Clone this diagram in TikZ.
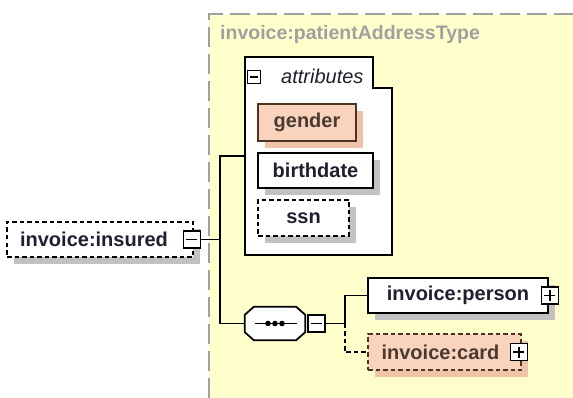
\documentclass[tikz,border=0pt]{standalone}
\usepackage{fontspec}
\setmainfont{Liberation Sans}
\usetikzlibrary{positioning,shadows}

\definecolor{typebg}{HTML}{FFFFCC}
\definecolor{typeline}{HTML}{A0A0A0}
\definecolor{textdark}{HTML}{1E2030}
\definecolor{shadowgray}{HTML}{C2C2C2}
\definecolor{attrfill}{HTML}{F9D3BC}
\definecolor{attrdraw}{HTML}{4A3426}
\definecolor{attrshadow}{HTML}{EEC3A8}
\definecolor{attrtext}{HTML}{4A3A30}

\tikzset{
  elem/.style={draw=black, fill=white, line width=1.8pt, text=textdark,
    font=\fontsize{20}{24}\selectfont\bfseries, inner sep=0pt,
    minimum height=35pt,
    drop shadow={shadow xshift=7pt, shadow yshift=-7pt, fill=shadowgray, opacity=1}},
  optional/.style={dash pattern=on 4.5pt off 3pt},
  attrelem/.style={elem, fill=attrfill, draw=attrdraw, text=attrtext,
    drop shadow={shadow xshift=7pt, shadow yshift=-7pt, fill=attrshadow, opacity=1}},
  pmbox/.style={draw=black, fill=white, line width=1.6pt, minimum size=17pt, inner sep=0pt},
  minusbox/.style={pmbox, path picture={
    \draw[line width=1.8pt] ([xshift=3pt]path picture bounding box.west) -- ([xshift=-3pt]path picture bounding box.east);}},
  plusbox/.style={pmbox, path picture={
    \draw[line width=1.8pt] ([xshift=3pt]path picture bounding box.west) -- ([xshift=-3pt]path picture bounding box.east);
    \draw[line width=1.8pt] ([yshift=-3pt]path picture bounding box.north) -- ([yshift=3pt]path picture bounding box.south);}},
  wire/.style={line width=1.8pt, draw=black}
}

\begin{document}
\begin{tikzpicture}[x=1pt, y=-1pt]
\useasboundingbox (0,0) rectangle (573,398);

% complex type area
\fill[typebg] (209,14) rectangle (573,398);
\draw[typeline, line width=1.6pt, dash pattern=on 20pt off 7pt] (209,398) -- (209,14) -- (573,14);
\node[anchor=base west, inner sep=0pt, text=typeline, font=\fontsize{19.5}{23}\selectfont\bfseries] (typename) at (220,40) {invoice:patientAddressType};

% attributes group
\draw[line width=1.8pt, fill=white] (245,57) -- (373,57) -- (373,88) -- (392,88) -- (392,255) -- (245,255) -- cycle;
\coordinate (attrin) at (245,156);
\node[pmbox, minimum size=13pt, line width=1.3pt, path picture={
  \draw[line width=1.3pt] ([xshift=2.5pt]path picture bounding box.west) -- ([xshift=-2.5pt]path picture bounding box.east);}] (attrminus) at (254,77) {};
\node[anchor=west, inner sep=0pt, text=textdark, font=\fontsize{20}{24}\selectfont\itshape] (attrlabel) at (281,76) {attributes};

\node[attrelem, minimum width=98pt, minimum height=37pt] (gender) at (307,122.5) {gender};
\node[elem, minimum width=115pt] (birthdate) at (315.5,170.5) {birthdate};
\node[elem, optional, minimum width=91pt, minimum height=36pt] (ssn) at (303.5,218) {ssn};

% root element
\node[elem, optional, minimum width=186pt] (insured) at (100,239.5) {\hspace*{-12pt}invoice:insured};
\node[minusbox] (insminus) at ([xshift=-2pt]insured.east) {};

% sequence
\node[minimum width=60pt, minimum height=33pt, inner sep=0pt] (seq) at (275,323.5) {};
\fill[shadowgray, shift={(7,7)}] ([xshift=9pt]seq.north west) -- ([xshift=-9pt]seq.north east)
  -- ([yshift=-8pt]seq.north east) -- ([yshift=8pt]seq.south east) -- ([xshift=-9pt]seq.south east)
  -- ([xshift=9pt]seq.south west) -- ([yshift=8pt]seq.south west) -- ([yshift=-8pt]seq.north west) -- cycle;
\draw[line width=1.8pt, fill=white] ([xshift=9pt]seq.north west) -- ([xshift=-9pt]seq.north east)
  -- ([yshift=-8pt]seq.north east) -- ([yshift=8pt]seq.south east) -- ([xshift=-9pt]seq.south east)
  -- ([xshift=9pt]seq.south west) -- ([yshift=8pt]seq.south west) -- ([yshift=-8pt]seq.north west) -- cycle;
\draw[line width=1.8pt] ([xshift=-20pt]seq.center) -- ([xshift=22pt]seq.center);
\foreach \dx in {-7,0,7}
  \fill ([xshift=\dx pt]seq.center) circle (2.8pt);
\node[minusbox, right=2pt of seq] (seqminus) {};

% children
\node[elem, minimum width=180pt] (person) at (458,295.5) {invoice:person};
\node[plusbox] (personplus) at ([xshift=1pt]person.east) {};
\node[attrelem, optional, minimum width=153pt, minimum height=36pt] (card) at (444.5,352) {\hspace*{-8pt}invoice:card};
\node[plusbox] (cardplus) at ([xshift=-3pt]card.east) {};

% connectors
\coordinate (insjoin) at ([xshift=19pt]insminus.east);
\draw[wire] (insminus.east) -- (insjoin) |- (attrin);
\draw[wire] (insjoin) |- (seq.west);
\coordinate (seqjoin) at ([xshift=19pt]seqminus.east);
\draw[wire] (seqminus.east) -- (seqjoin) |- (person.west);
\draw[wire, optional] (seqjoin) |- (card.west);
\end{tikzpicture}
\end{document}
